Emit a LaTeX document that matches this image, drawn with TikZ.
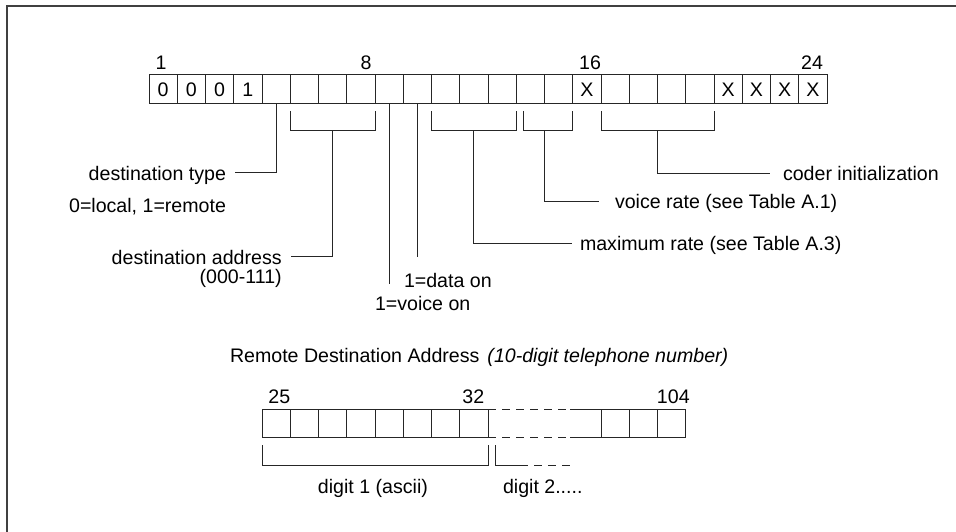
\documentclass[tikz,border=0pt]{standalone}
\usepackage{fontspec}
\setmainfont{Liberation Sans}
\begin{document}
\begin{tikzpicture}[x=1pt,y=-1pt,
  every node/.style={inner sep=0pt, outer sep=0pt, font=\fontsize{19.6}{23}\selectfont},
  wire/.style={draw=black!85, line width=1pt},
  dashedwire/.style={wire, dash pattern=on 8pt off 6pt},
  bitcell/.style={draw=black!85, line width=1pt, minimum width=28.25pt, minimum height=29pt, anchor=north west},
  digcell/.style={bitcell, minimum height=28pt},
  lbl/.style={anchor=base west},
  lblr/.style={anchor=base east},
  num/.style={anchor=base},
  frameline/.style={draw=black!75, line width=2pt}]

\useasboundingbox (0,0) rectangle (956,532);

% outer frame (top and left edges)
\draw[frameline] (7.3,532) -- (7.3,6) -- (956,6);

% ---- 24-bit control word ----
\foreach \i in {1,...,24}
  \node[bitcell] (c\i) at ({149+(\i-1)*28.25},75) {};
\foreach \i/\b in {1/0,2/0,3/0,4/1,16/X,21/X,22/X,23/X,24/X}
  \node (b\i) at (c\i.center) {\b};

\node[num] (n1)  at (161,70) {1};
\node[num] (n8)  at (366,70) {8};
\node[num] (n16) at (590,70) {16};
\node[num] (n24) at (812,70) {24};

% field brackets
\draw[wire] (c6.south west |- 0,111) |- (c8.south east |- 0,131) -- (c8.south east |- 0,111);
\draw[wire] (c11.south west |- 0,111) |- (c13.south east |- 0,131) -- (c13.south east |- 0,111);
\draw[wire] (523,111) |- (c15.south east |- 0,131) -- (c15.south east |- 0,111);
\draw[wire] (c17.south west |- 0,111) |- (c20.south east |- 0,131) -- (c20.south east |- 0,111);
\coordinate (m68)   at (332.6,131);
\coordinate (m1113) at (473.9,131);
\coordinate (m1415) at (544.5,131);
\coordinate (m1720) at (657.5,131);

% field labels
\node[lblr] (dtype) at (226,180.5) {destination type};
\node[lblr] (dtval) at (226,212) {0=local, 1=remote};
\node[lblr] (daddr) at (281.7,264) {destination address};
\node[lblr] (daval) at (281.7,283) {(000-111)};
\node[lbl]  (data)  at (404,287) {1=data on};
\node[lbl]  (voice) at (375,310) {1=voice on};
\node[lbl]  (maxr)  at (580,250) {maximum rate (see Table A.3)};
\node[lbl]  (vrate) at (615,208) {voice rate (see Table A.1)};
\node[lbl]  (coder) at (783,180.5) {coder initialization};

% leaders
\draw[wire] (c5.south) |- ([shift={(9,-7.5)}]dtype.base east);
\draw[wire] (m68) |- ([shift={(9,-8)}]daddr.base east);
\coordinate (e9)  at (c9.south |- 0,284);
\coordinate (e10) at (c10.south |- 0,256.7);
\draw[wire] (c9.south) -- (e9);
\draw[wire] (c10.south) -- (e10);
\draw[wire] (m1113) |- ([shift={(-8,-7)}]maxr.base west);
\draw[wire] (m1415) |- ([shift={(-16,-7)}]vrate.base west);
\draw[wire] (m1720) |- ([shift={(-13,-7)}]coder.base west);

% ---- remote destination address ----
\node[anchor=base west] (title) at (230,362)
  {Remote Destination Address\hspace{8pt}\textit{(10-digit telephone number)}};

\foreach \i in {1,...,8}
  \node[digcell] (d\i) at ({262+(\i-1)*28.25},409) {};
\foreach \i in {1,2,3}
  \node[digcell] (t\i) at ({601+(\i-1)*28.25},409) {};
\coordinate (gapT) at (570,409);
\coordinate (gapB) at (570,437);
\draw[dashedwire] (d8.north east) -- (gapT);
\draw[dashedwire] (d8.south east) -- (gapB);
\draw[wire] (gapT) -- (t1.north west);
\draw[wire] (gapB) -- (t1.south west);

\node[num] (n25)  at (279.3,403) {25};
\node[num] (n32)  at (473.3,403) {32};
\node[num] (n104) at (673.3,403) {104};

% digit brackets
\draw[wire] (d1.south west |- 0,445) |- (d8.south east |- 0,465.7) -- (d8.south east |- 0,445);
\coordinate (g2a) at (495,445);
\coordinate (g2b) at (520,465.7);
\coordinate (g2c) at (570,465.7);
\draw[wire] (g2a) |- (g2b);
\draw[dashedwire] (g2b) -- (g2c);

\node[num] (dig1) at (373,493) {digit 1 (ascii)};
\node[lbl] (dig2) at (503,493) {digit 2.....};
\end{tikzpicture}
\end{document}
